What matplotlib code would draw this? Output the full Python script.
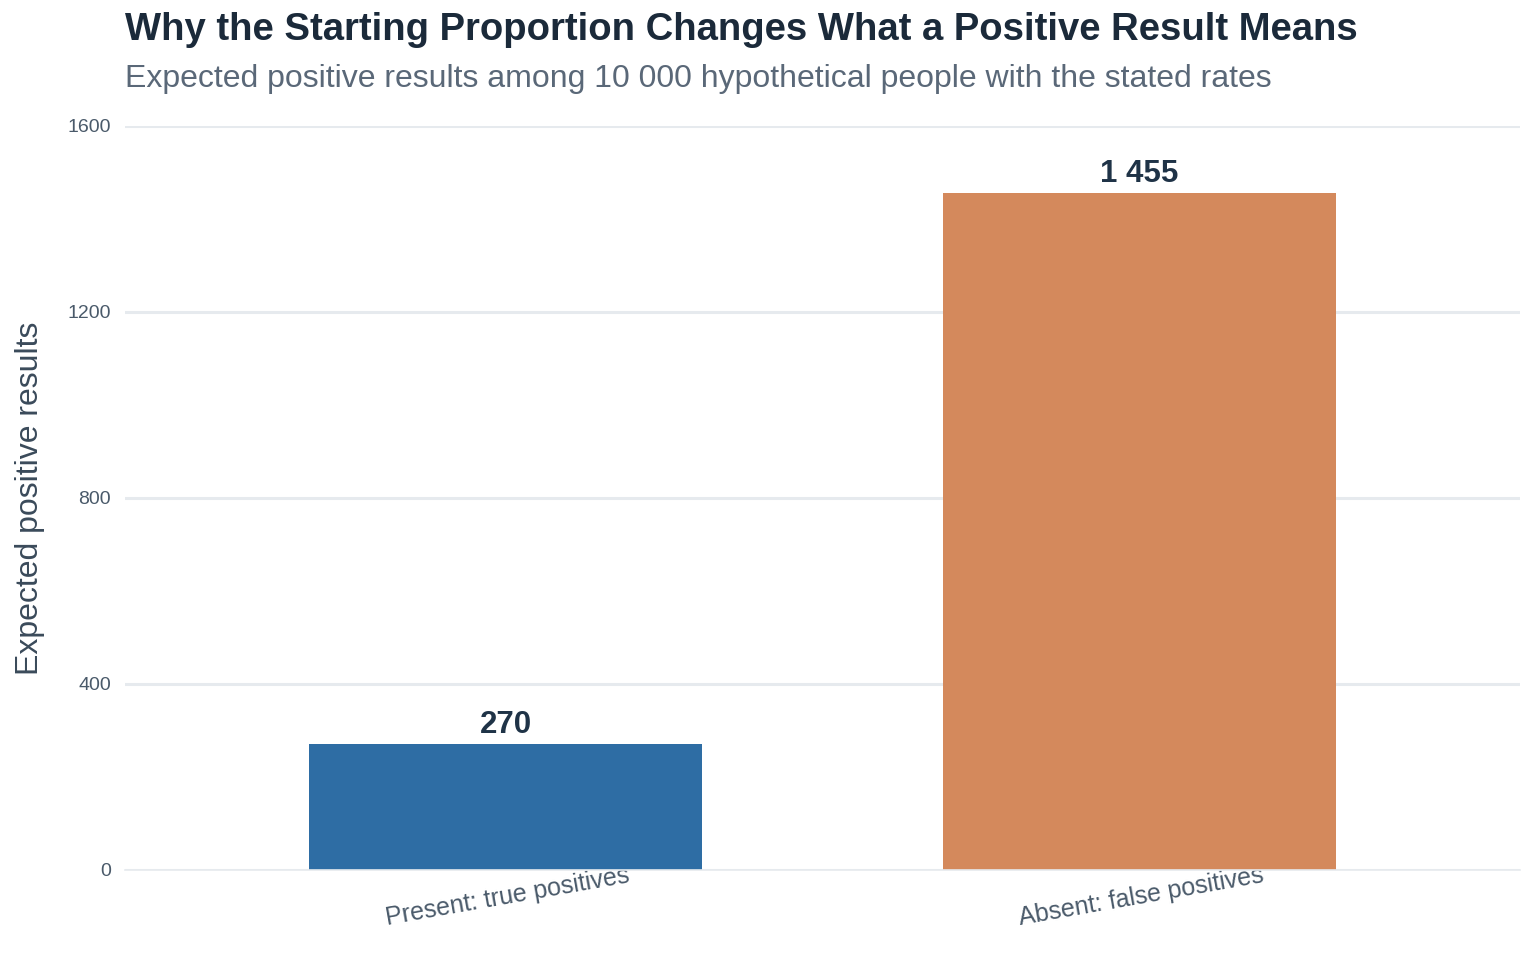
import matplotlib
matplotlib.use("Agg")
import matplotlib.pyplot as plt

plt.rcParams['font.family'] = ['Liberation Sans', 'DejaVu Sans']

categories = ["Present: true positives", "Absent: false positives"]
values = [270, 1455]
bar_colors = ["#2e6da4", "#d4895c"]
yticks = [0, 400, 800, 1200, 1600]

title = "Why the Starting Proportion Changes What a Positive Result Means"
subtitle = "Expected positive results among 10 000 hypothetical people with the stated rates"


def fmt_thousands(v):
    return f"{v:,}".replace(",", " ")


fig = plt.figure(figsize=(15.36, 9.6), dpi=100)
ax = fig.add_axes([125 / 1536, 1 - 870 / 960, 1395 / 1536, 744 / 960])

x = list(range(len(categories)))
bars = ax.bar(x, values, width=0.62, color=bar_colors, zorder=2)

for xi, v in zip(x, values):
    ax.text(xi, v + 10, fmt_thousands(v), ha="center", va="bottom",
            fontsize=22.5, fontweight="bold", color="#1f3347", zorder=4)

ax.set_xlim(-0.6, 1.6)
ax.set_ylim(0, 1600)
ax.set_yticks(yticks)
ax.set_yticklabels([str(t) for t in yticks], fontsize=14, color="#4a5a6a")
ax.set_xticks(x)
ax.set_xticklabels(categories, rotation=10, fontsize=18, color="#4a5a6a",
                   ha="center", rotation_mode="anchor")
ax.tick_params(axis="both", length=0)
ax.tick_params(axis="y", pad=10)
ax.tick_params(axis="x", pad=11)

ax.grid(axis="y", color="#e6eaee", linewidth=2.2, zorder=0)
ax.set_axisbelow(True)
for s in ["top", "right", "left"]:
    ax.spines[s].set_visible(False)
ax.spines["bottom"].set_color("#e6eaee")
ax.spines["bottom"].set_linewidth(1.2)

ax.set_ylabel("Expected positive results", fontsize=23, color="#3a4a5a", labelpad=16)

fig.text(125 / 1536, 1 - 12 / 960, title, ha="left", va="top",
         fontsize=27.5, fontweight="bold", color="#1b2a3a")
fig.text(125 / 1536, 1 - 64 / 960, subtitle, ha="left", va="top",
         fontsize=23, color="#5a6878")

fig.savefig("out.png", dpi=100)
